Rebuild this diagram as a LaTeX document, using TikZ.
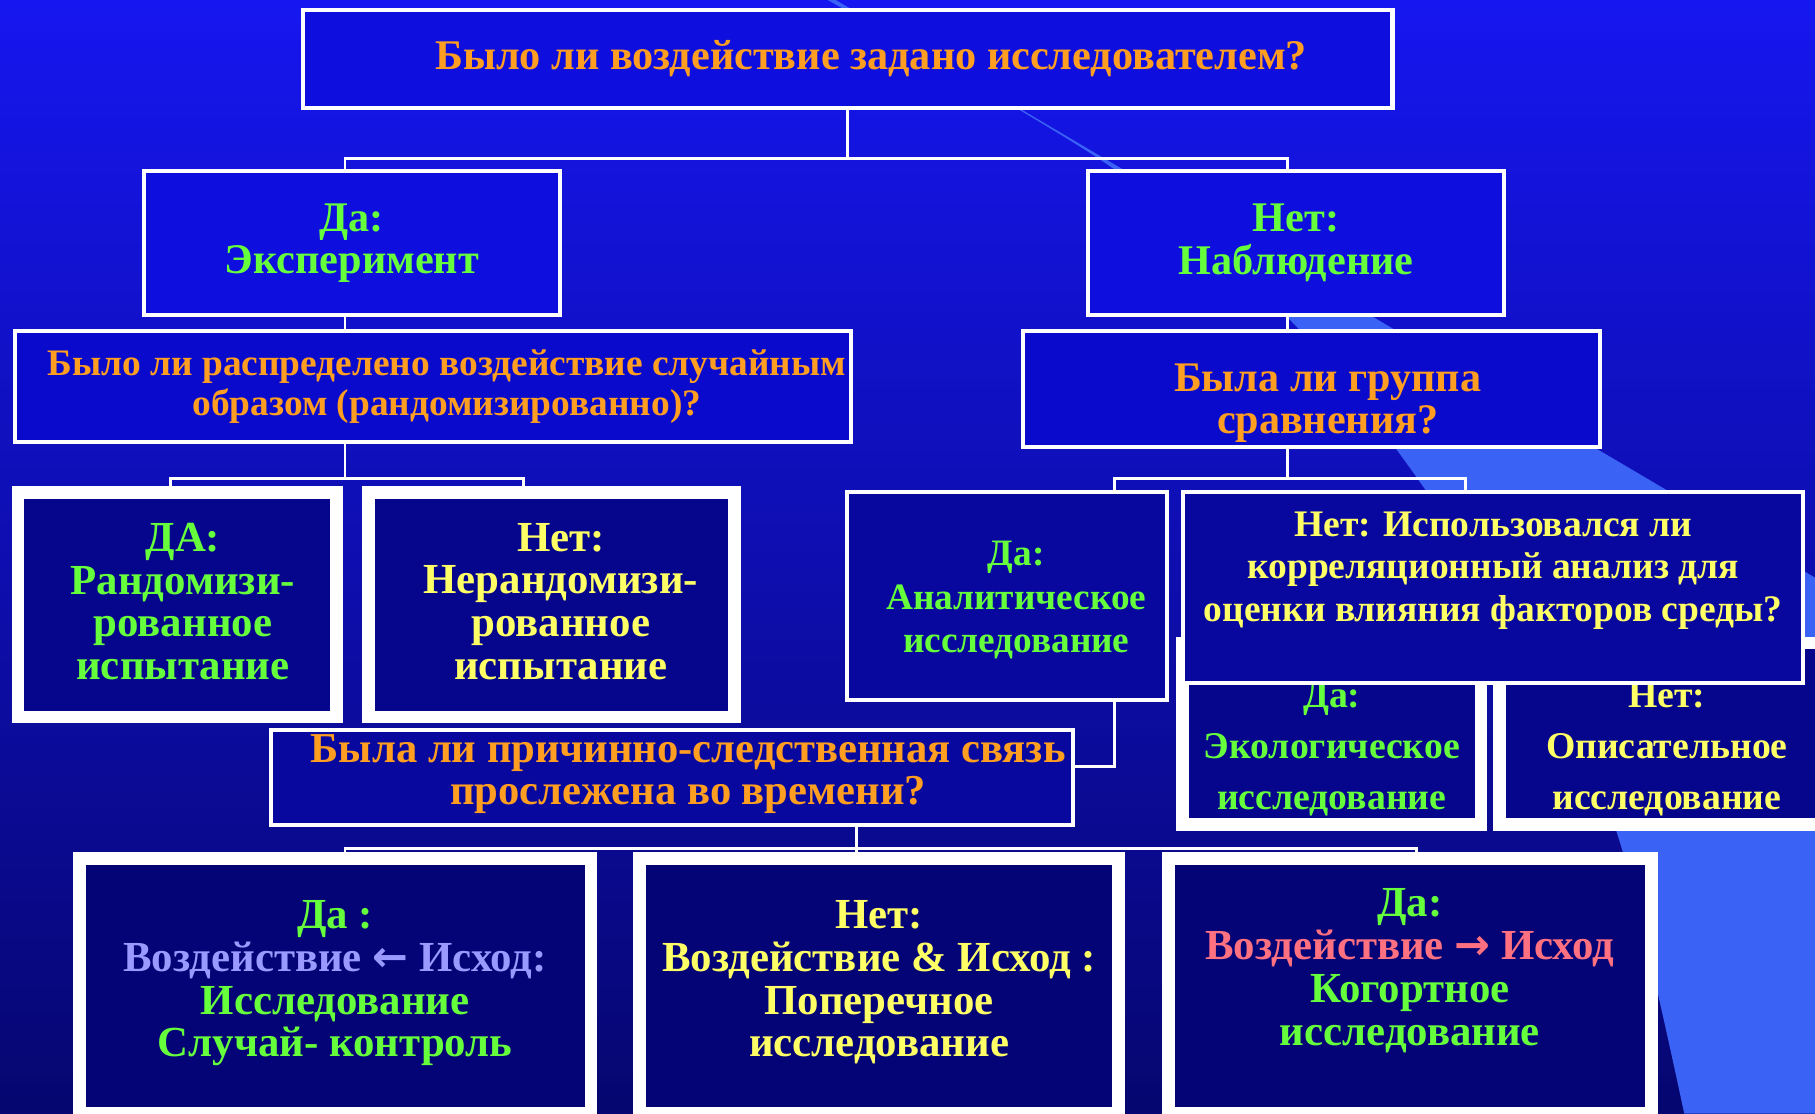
\documentclass[tikz,border=0pt]{standalone}
\usepackage{fontspec}
\setmainfont{Liberation Serif}
\newfontfamily\arrowfont{DejaVu Sans}
\usetikzlibrary{calc}
\definecolor{bgtop}{RGB}{22,22,240}
\definecolor{bgmid}{RGB}{14,14,200}
\definecolor{bgbot}{RGB}{6,6,112}
\definecolor{swooshc}{RGB}{58,98,245}
\definecolor{fillA}{RGB}{14,14,222}
\definecolor{fillB}{RGB}{10,10,205}
\definecolor{fillC}{RGB}{8,8,158}
\definecolor{fillD}{RGB}{6,6,140}
\definecolor{fillE}{RGB}{4,4,118}
\definecolor{orangeT}{RGB}{255,158,32}
\definecolor{greenT}{RGB}{102,255,60}
\definecolor{yellowT}{RGB}{255,255,102}
\definecolor{lblueT}{RGB}{153,153,255}
\definecolor{pinkT}{RGB}{255,112,128}
\newcommand\myfs[2]{\fontsize{#1}{#2}\selectfont\bfseries}
\newcommand\tup[1]{\rule{0pt}{#1}}
\newcommand\tdn[1]{\rule[-#1]{0pt}{#1}}
\newcommand\hs[1]{\hspace*{#1}}
\tikzset{
  thinbox/.style={draw=white, line width=3.5pt, inner sep=0pt, align=center},
  thickbox/.style={draw=white, line width=11pt, inner sep=0pt, align=center},
  conn/.style={draw=white, line width=2.5pt},
}
\begin{document}
\begin{tikzpicture}[x=1pt,y=-1pt]
\useasboundingbox (0,0) rectangle (1568,962);
\clip (0,0) rectangle (1568,962);
\shade[top color=bgtop, middle color=bgmid, bottom color=bgbot] (0,0) rectangle (1568,962);
\fill[swooshc] (722,0) -- (1568,499) -- (1568,962) -- plot[smooth] coordinates {(1455,962) (1397,720) (1320,560) (1215,400) (1115,277) (958,143) (715,0)} -- cycle;

% junctions
\coordinate (j1l) at (298,137); \coordinate (j1r) at (1112,137);
\coordinate (j2l) at (147,413); \coordinate (j2r) at (452,413);
\coordinate (j3l) at (963,413); \coordinate (j3r) at (1266,413);
\coordinate (j4) at (963,662);
\coordinate (j5l) at (298,733); \coordinate (j5m) at (740,733); \coordinate (j5r) at (1224,733);

\node[thinbox, fill=fillA, text=orangeT, font=\myfs{36.5}{40}, minimum width=941, minimum height=84] (b1) at (732.5,51) {\hs{40pt}Было ли воздействие задано исследователем?};
\node[thinbox, fill=fillA, text=greenT, font=\myfs{36.5}{37}, minimum width=360, minimum height=124] (b2) at (304,210) {Да:\\Эксперимент};
\node[thinbox, fill=fillA, text=greenT, font=\myfs{36.5}{37}, minimum width=359, minimum height=124] (b3) at (1119.5,210) {Нет:\\Наблюдение};
\node[thinbox, fill=fillB, text=orangeT, font=\myfs{32.3}{35}, minimum width=722, minimum height=96] (b4) at (374,334) {\hs{24pt}Было ли распределено воздействие случайным\\\hs{24pt}образом (рандомизированно)?};
\node[thinbox, fill=fillB, text=orangeT, font=\myfs{36.4}{36}, minimum width=498, minimum height=100] (b5) at (1133,336) {\hs{28pt}\tup{48pt}Была ли группа\\\hs{28pt}сравнения?};

\draw[conn] (b1.south) -- (b1.south |- j1l);
\draw[conn] (j1l |- b2.north) -- (j1l) -- (j1r) -- (j1r |- b3.north);
\draw[conn] (j1l |- b2.south) -- (j1l |- b4.north);
\draw[conn] (j1r |- b3.south) -- (j1r |- b5.north);

\node[thickbox, fill=fillD, text=greenT, font=\myfs{37}{37}, minimum width=275, minimum height=194] (b7) at (153,522.5) {\hs{10pt}ДА:\\\hs{10pt}Рандомизи-\\\hs{10pt}рованное\\\hs{10pt}испытание\tdn{6pt}};
\node[thickbox, fill=fillD, text=yellowT, font=\myfs{37}{37}, minimum width=316, minimum height=194] (b8) at (476.5,522.5) {\hs{16pt}Нет:\\\hs{16pt}Нерандомизи-\\\hs{16pt}рованное\\\hs{16pt}испытание\tdn{6pt}};
\draw[conn] (j1l |- b4.south) -- (j1l |- j2l);
\draw[conn] (j2l |- b7.north) -- (j2l) -- (j2r) -- (j2r |- b8.north);

\node[thinbox, fill=fillC, text=greenT, font=\myfs{32.2}{37.5}, minimum width=276, minimum height=180] (b10) at (870,515) {\hs{16pt}\tup{28.5pt}Да:\\\hs{16pt}Аналитическое\\\hs{16pt}исследование};
\node[thickbox, fill=fillD, text=greenT, font=\myfs{32.6}{44}, minimum width=258, minimum height=157] (b13) at (1150.5,634) {\tup{48.5pt}Да:\\Экологическое\\исследование};
\node[thickbox, fill=fillD, text=yellowT, font=\myfs{32.6}{44}, minimum width=289, minimum height=157] (b14) at (1440,634) {\tup{48.5pt}Нет:\\Описательное\\исследование};
\node[thinbox, fill=fillC, text=yellowT, font=\myfs{32.4}{37}, minimum width=536, minimum height=165] (b12) at (1290,507.5) {Нет: Использовался ли\\корреляционный анализ для\\оценки влияния факторов среды?\tdn{36pt}};
\draw[conn] (j1r |- b5.south) -- (j1r |- j3l);
\draw[conn] (j3l |- b10.north) -- (j3l) -- (j3r) -- (j3r |- b12.north);

\node[thinbox, fill=fillC, text=orangeT, font=\myfs{36.8}{36}, minimum width=693, minimum height=82] (b11) at (580.5,672) {\hs{28pt}Была ли причинно-следственная связь\\\hs{28pt}прослежена во времени?\tdn{14pt}};
\draw[conn] (j3l |- b10.south) -- (j4) -- (j4 -| b11.east);

\node[thickbox, fill=fillE, text=greenT, font=\myfs{37}{37}, minimum width=442, minimum height=220] (b15) at (289.5,851.5) {Да :\\\textcolor{lblueT}{Воздействие {\arrowfont←} Исход:}\\Исследование\\Случай- контроль\tdn{12pt}};
\node[thickbox, fill=fillE, text=yellowT, font=\myfs{37}{37}, minimum width=414, minimum height=220] (b16) at (759.5,851.5) {Нет:\\Воздействие \& Исход :\\Поперечное\\исследование\tdn{12pt}};
\node[thickbox, fill=fillE, text=greenT, font=\myfs{37}{37}, minimum width=417, minimum height=220] (b17) at (1218,851.5) {Да:\\\textcolor{pinkT}{Воздействие {\arrowfont→} Исход}\\Когортное\\исследование\tdn{32pt}};
\draw[conn] (j5m |- b11.south) -- (j5m);
\draw[conn] (j5l |- b15.north) -- (j5l) -- (j5r) -- (j5r |- b17.north);
\draw[conn] (j5m) -- (j5m |- b16.north);
\end{tikzpicture}
\end{document}
